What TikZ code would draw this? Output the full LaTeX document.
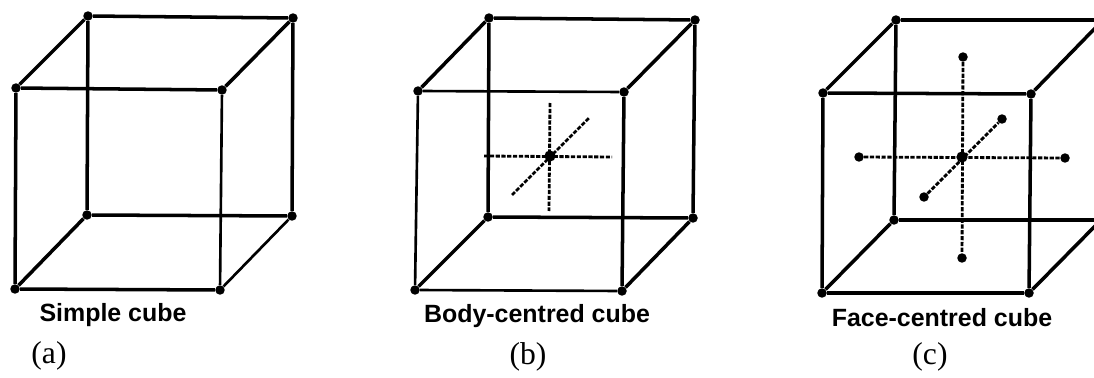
\documentclass[tikz,border=0pt]{standalone}
\usepackage{fontspec}
\setmainfont{Liberation Serif}
\newfontfamily\capfont{Liberation Sans}
\usepackage{tikz}
\usetikzlibrary{positioning, calc}
\tikzset{
  atom/.style={circle, fill=black, inner sep=0pt, minimum size=5.4pt},
  bar/.style={line width=2pt, black},
  thinbar/.style={line width=1.5pt, black},
  axisline/.style={line width=1.6pt, black, dash pattern=on 2.4pt off 0.9pt},
  caption/.style={font=\capfont\bfseries\fontsize{14.2}{16}\selectfont},
  tag/.style={font=\fontsize{18}{20}\selectfont}
}
\begin{document}
\begin{tikzpicture}[x=0.02cm, y=-0.02cm]
        \useasboundingbox (0,0) rectangle (1094,378);
        \clip (0,0) rectangle (1094,378);

        % Simple cube
        \node[atom] (aBTL) at (88,16) {};
        \node[atom] (aBTR) at (293,18) {};
        \node[atom] (aBBR) at (292,216) {};
        \node[atom] (aBBL) at (87,215) {};
        \node[atom] (aFTL) at (16,88) {};
        \node[atom] (aFTR) at (222,90) {};
        \node[atom] (aFBR) at (220,290) {};
        \node[atom] (aFBL) at (15,289) {};

        \draw[bar] (aFTL) -- (aBTL) -- (aBTR) -- (aFTR) -- (aFTL) -- (aFBL) -- (aFBR);
        \draw[bar] (aBTL) -- (aBBL) -- (aBBR) -- (aBTR);
        \draw[bar] (aFBL) -- (aBBL);
        \draw[thinbar] (aFTR) -- (aFBR) -- (aBBR);

        \node[caption] (aName) at (113,315) {Simple cube};
        \node[tag] (aTag) at (49,356) {(a)};

        % Body-centred cube
        \node[atom] (bBTL) at (489,18) {};
        \node[atom] (bBTR) at (695,20) {};
        \node[atom] (bBBR) at (693,218) {};
        \node[atom] (bBBL) at (488,217) {};
        \node[atom] (bFTL) at (418,91) {};
        \node[atom] (bFTR) at (624,92) {};
        \node[atom] (bFBR) at (622,291) {};
        \node[atom] (bFBL) at (415,290) {};
        \node[atom, minimum size=6.4pt] (bMid) at (550,156) {};
        \coordinate (bLeft) at (484,156);
        \coordinate (bRight) at (612,157);
        \coordinate (bUp) at (550,103);
        \coordinate (bDown) at (549,211);
        \coordinate (bNear) at (512,195);
        \coordinate (bFar) at (589,118);

        \draw[bar] (bFTL) -- (bBTL) -- (bBTR) -- (bBBR) -- (bBBL) -- (bBTL);
        \draw[bar] (bBTR) -- (bFTR) -- (bFBR) -- (bBBR);
        \draw[bar] (bFBL) -- (bBBL);
        \draw[thinbar] (bFTL) -- (bFTR);
        \draw[thinbar] (bFTL) -- (bFBL) -- (bFBR);
        \draw[axisline] (bLeft) -- (bRight);
        \draw[axisline] (bUp) -- (bDown);
        \draw[axisline] (bNear) -- (bFar);

        \node[caption] (bName) at (537,316) {Body-centred cube};
        \node[tag] (bTag) at (528,357) {(b)};

        % Face-centred cube, cut off by the right edge
        \node[atom] (cBTL) at (896,20) {};
        \coordinate (cBTR) at (1103,20);
        \coordinate (cBBR) at (1101,220);
        \node[atom] (cBBL) at (894,220) {};
        \node[atom] (cFTL) at (823,93) {};
        \node[atom] (cFTR) at (1031,94) {};
        \node[atom] (cFBR) at (1029,293) {};
        \node[atom] (cFBL) at (822,293) {};
        \node[atom, minimum size=6.4pt] (cMid) at (962,157) {};
        \node[atom] (cLeft) at (859,157) {};
        \node[atom] (cRight) at (1065,158) {};
        \node[atom] (cUp) at (963,57) {};
        \node[atom] (cDown) at (962,258) {};
        \node[atom] (cNear) at (924,197) {};
        \node[atom] (cFar) at (1002,119) {};

        \draw[bar] (cFTL) -- (cBTL) -- (cBTR) -- (cFTR) -- (cFTL) -- (cFBL) -- (cFBR) -- (cFTR);
        \draw[bar] (cBTL) -- (cBBL) -- (cBBR);
        \draw[bar] (cFBL) -- (cBBL);
        \draw[bar] (cFBR) -- (cBBR);
        \draw[axisline] (cLeft) -- (cRight);
        \draw[axisline] (cUp) -- (cDown);
        \draw[axisline] (cNear) -- (cFar);

        \node[caption] (cName) at (942,318) {Face-centred cube};
        \node[tag] (cTag) at (930,357) {(c)};
      \end{tikzpicture}
\end{document}
